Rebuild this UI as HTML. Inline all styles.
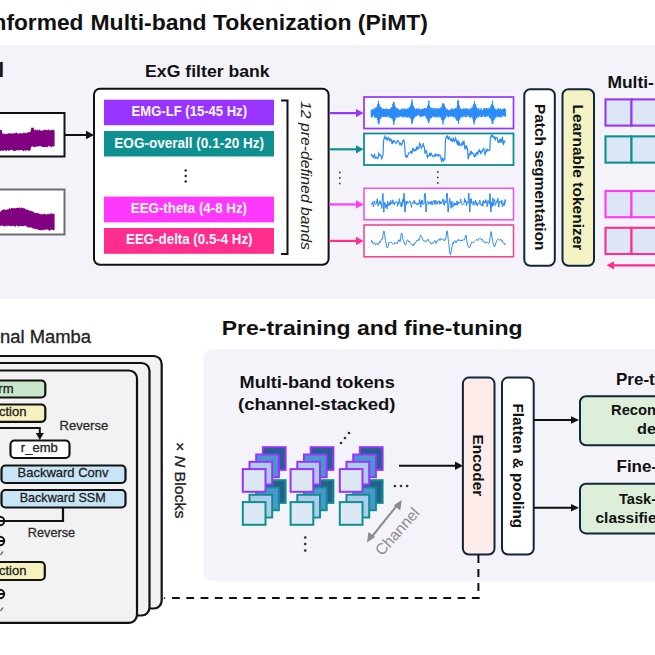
<!DOCTYPE html>
<html><head><meta charset="utf-8">
<style>
html,body{margin:0;padding:0;background:#fff;width:655px;height:655px;overflow:hidden}
svg{display:block}
text{font-family:"Liberation Sans",sans-serif}
.b{font-weight:bold}
.r{stroke:#222;stroke-width:0.3}
</style></head><body>
<svg width="655" height="655" viewBox="0 0 655 655">
<rect x="0" y="0" width="655" height="655" fill="#fff"/>
<!-- ============ TOP PANEL ============ -->
<rect x="0" y="45" width="655" height="254" fill="#F4F3F9"/>
<text class="b" x="-7.5" y="29.7" font-size="21.5" fill="#111" textLength="91" lengthAdjust="spacingAndGlyphs">nformed</text>
<text class="b" x="90.5" y="29.7" font-size="21.5" fill="#111" textLength="337.5" lengthAdjust="spacingAndGlyphs">Multi-band Tokenization (PiMT)</text>

<!-- raw signal label tail -->
<text class="b" x="-1.5" y="76.5" font-size="20" fill="#111">l</text>

<!-- raw signal boxes -->
<rect x="-5" y="113" width="69.5" height="43.5" fill="#fff" stroke="#111" stroke-width="2"/>
<path d="M0.0 130.0 L0.6 130.0 L1.2 130.0 L1.8 130.0 L2.4 133.7 L3.0 133.2 L3.6 134.4 L4.2 133.6 L4.8 133.5 L5.4 133.8 L6.0 134.6 L6.6 134.0 L7.2 133.3 L7.8 133.9 L8.4 132.9 L9.0 133.6 L9.6 133.8 L10.2 133.6 L10.8 132.8 L11.4 133.8 L12.0 133.3 L12.6 134.0 L13.2 133.0 L13.8 133.4 L14.4 133.6 L15.0 132.7 L15.6 133.3 L16.2 133.0 L16.8 132.5 L17.4 132.9 L18.0 133.7 L18.6 133.9 L19.2 133.3 L19.8 133.4 L20.4 133.0 L21.0 132.9 L21.6 133.7 L22.2 133.2 L22.8 133.5 L23.4 132.3 L24.0 133.6 L24.6 132.9 L25.2 132.3 L25.8 132.9 L26.4 133.4 L27.0 132.8 L27.6 132.5 L28.2 131.9 L28.8 132.6 L29.4 132.3 L30.0 131.8 L30.6 131.8 L31.2 128.0 L31.8 127.4 L32.4 127.9 L33.0 127.6 L33.6 127.4 L34.2 130.6 L34.8 129.5 L35.4 129.2 L36.0 130.7 L36.6 130.0 L37.2 129.2 L37.8 130.6 L38.4 130.5 L39.0 129.6 L39.6 129.5 L40.2 130.9 L40.8 129.8 L41.4 130.9 L42.0 131.0 L42.6 130.1 L43.2 130.5 L43.8 130.0 L44.4 129.9 L45.0 129.3 L45.6 130.1 L46.2 129.7 L46.8 130.4 L47.4 130.3 L48.0 129.8 L48.6 129.6 L49.2 129.6 L49.8 130.7 L50.4 130.3 L51.0 130.3 L51.6 129.8 L52.2 130.0 L52.8 130.3 L53.4 129.3 L54.0 130.6 L54.6 130.5 L54.6 145.7 L54.0 147.1 L53.4 146.3 L52.8 145.9 L52.2 146.8 L51.6 147.4 L51.0 146.8 L50.4 146.5 L49.8 145.7 L49.2 147.3 L48.6 145.6 L48.0 146.3 L47.4 147.4 L46.8 146.9 L46.2 147.1 L45.6 147.4 L45.0 146.4 L44.4 147.3 L43.8 147.3 L43.2 146.7 L42.6 147.3 L42.0 146.5 L41.4 146.4 L40.8 146.0 L40.2 146.6 L39.6 146.2 L39.0 146.2 L38.4 146.0 L37.8 146.5 L37.2 146.8 L36.6 147.1 L36.0 145.8 L35.4 147.0 L34.8 147.4 L34.2 147.3 L33.6 146.5 L33.0 146.9 L32.4 146.2 L31.8 146.5 L31.2 146.8 L30.6 149.9 L30.0 150.3 L29.4 150.9 L28.8 150.6 L28.2 151.1 L27.6 150.1 L27.0 150.3 L26.4 150.7 L25.8 150.0 L25.2 151.2 L24.6 149.9 L24.0 151.1 L23.4 151.1 L22.8 150.8 L22.2 150.2 L21.6 150.0 L21.0 149.9 L20.4 150.1 L19.8 149.9 L19.2 150.7 L18.6 150.6 L18.0 150.3 L17.4 149.9 L16.8 150.3 L16.2 150.7 L15.6 151.1 L15.0 150.6 L14.4 150.9 L13.8 151.1 L13.2 151.1 L12.6 149.9 L12.0 149.7 L11.4 150.0 L10.8 150.0 L10.2 150.1 L9.6 150.5 L9.0 151.2 L8.4 150.5 L7.8 149.8 L7.2 150.0 L6.6 151.3 L6.0 151.0 L5.4 150.6 L4.8 150.4 L4.2 150.1 L3.6 150.4 L3.0 151.0 L2.4 151.1 L1.8 150.1 L1.2 150.9 L0.6 151.1 L0.0 150.7 Z" fill="#800080"/>
<rect x="-5" y="189.5" width="69.5" height="45" fill="#fff" stroke="#6e6e6e" stroke-width="2"/>
<path d="M0.0 211.6 L0.6 211.4 L1.2 211.3 L1.8 209.9 L2.4 210.1 L3.0 209.8 L3.6 209.5 L4.2 209.5 L4.8 209.1 L5.4 210.3 L6.0 209.9 L6.6 209.5 L7.2 209.3 L7.8 209.5 L8.4 209.4 L9.0 208.5 L9.6 208.1 L10.2 208.9 L10.8 208.8 L11.4 207.6 L12.0 208.5 L12.6 208.1 L13.2 208.2 L13.8 208.2 L14.4 208.5 L15.0 207.8 L15.6 208.5 L16.2 207.5 L16.8 208.2 L17.4 208.1 L18.0 207.8 L18.6 207.9 L19.2 207.4 L19.8 207.5 L20.4 208.5 L21.0 207.8 L21.6 207.6 L22.2 207.8 L22.8 207.7 L23.4 208.6 L24.0 208.1 L24.6 208.4 L25.2 208.5 L25.8 209.8 L26.4 209.2 L27.0 209.8 L27.6 209.8 L28.2 209.9 L28.8 209.7 L29.4 210.9 L30.0 210.9 L30.6 210.3 L31.2 211.4 L31.8 210.9 L32.4 211.8 L33.0 211.1 L33.6 212.3 L34.2 212.4 L34.8 212.9 L35.4 212.9 L36.0 212.9 L36.6 213.2 L37.2 213.4 L37.8 213.1 L38.4 212.8 L39.0 213.7 L39.6 213.9 L40.2 213.8 L40.8 214.6 L41.4 213.5 L42.0 214.7 L42.6 214.3 L43.2 214.6 L43.8 213.4 L44.4 213.5 L45.0 214.1 L45.6 214.4 L46.2 214.6 L46.8 214.4 L47.4 214.0 L48.0 213.7 L48.6 214.3 L49.2 213.4 L49.8 214.5 L50.4 213.6 L51.0 213.6 L51.6 213.3 L52.2 213.5 L52.8 214.5 L53.4 213.6 L54.0 213.7 L54.6 213.7 L54.6 230.1 L54.0 230.1 L53.4 230.4 L52.8 230.1 L52.2 229.6 L51.6 230.1 L51.0 229.5 L50.4 229.9 L49.8 230.8 L49.2 230.9 L48.6 230.0 L48.0 229.8 L47.4 229.4 L46.8 229.4 L46.2 229.6 L45.6 229.6 L45.0 230.0 L44.4 229.6 L43.8 230.9 L43.2 229.5 L42.6 230.6 L42.0 229.5 L41.4 230.5 L40.8 229.9 L40.2 230.6 L39.6 230.3 L39.0 229.7 L38.4 230.2 L37.8 229.4 L37.2 229.3 L36.6 229.6 L36.0 228.5 L35.4 228.7 L34.8 229.3 L34.2 229.3 L33.6 228.6 L33.0 227.7 L32.4 228.7 L31.8 228.0 L31.2 227.3 L30.6 227.6 L30.0 227.2 L29.4 227.8 L28.8 227.5 L28.2 227.3 L27.6 227.4 L27.0 226.1 L26.4 227.0 L25.8 225.9 L25.2 225.5 L24.6 225.5 L24.0 226.5 L23.4 225.8 L22.8 226.5 L22.2 226.0 L21.6 225.7 L21.0 226.2 L20.4 225.9 L19.8 226.4 L19.2 225.9 L18.6 226.4 L18.0 225.7 L17.4 226.8 L16.8 225.6 L16.2 225.3 L15.6 226.7 L15.0 226.5 L14.4 226.6 L13.8 226.3 L13.2 225.5 L12.6 226.3 L12.0 225.6 L11.4 226.5 L10.8 226.6 L10.2 225.8 L9.6 226.3 L9.0 225.8 L8.4 225.4 L7.8 226.8 L7.2 225.4 L6.6 225.6 L6.0 226.4 L5.4 226.2 L4.8 225.8 L4.2 226.4 L3.6 226.2 L3.0 226.2 L2.4 225.7 L1.8 225.3 L1.2 225.4 L0.6 226.1 L0.0 226.6 Z" fill="#800080"/>
<!-- arrow raw->filter -->
<line x1="65" y1="135" x2="87" y2="135" stroke="#111" stroke-width="2"/>
<polygon points="86,130.8 94,135 86,139.2" fill="#111"/>

<!-- filter bank -->
<text class="b" x="145.1" y="76.5" font-size="17" fill="#111" textLength="124.6" lengthAdjust="spacingAndGlyphs">ExG filter bank</text>
<rect x="94" y="88.8" width="234.6" height="176" rx="6" fill="#fff" stroke="#111" stroke-width="2"/>
<rect x="104" y="99.7" width="170" height="25.5" fill="#9933FF"/>
<text class="b" x="189.3" y="116.4" font-size="13.8" fill="#fafafa" text-anchor="middle" textLength="115.4" lengthAdjust="spacingAndGlyphs">EMG-LF (15-45 Hz)</text>
<rect x="104" y="131" width="170" height="25.5" fill="#0F9090"/>
<text class="b" x="189.2" y="147.8" font-size="13.8" fill="#fafafa" text-anchor="middle" textLength="149.7" lengthAdjust="spacingAndGlyphs">EOG-overall (0.1-20 Hz)</text>
<circle cx="185.7" cy="170.4" r="1.2" fill="#222"/>
<circle cx="185.7" cy="176" r="1.2" fill="#222"/>
<circle cx="185.7" cy="181.5" r="1.2" fill="#222"/>
<rect x="104" y="196.6" width="170" height="25.8" fill="#FF38FF"/>
<text class="b" x="188.9" y="212.5" font-size="13.8" fill="#fafafa" text-anchor="middle" textLength="116.2" lengthAdjust="spacingAndGlyphs">EEG-theta (4-8 Hz)</text>
<rect x="104" y="228" width="170" height="25.8" fill="#FF2D8D"/>
<text class="b" x="189.3" y="244.4" font-size="13.8" fill="#fafafa" text-anchor="middle" textLength="126.4" lengthAdjust="spacingAndGlyphs">EEG-delta (0.5-4 Hz)</text>
<!-- bracket -->
<path d="M281 100.5 L287.5 100.5 L287.5 254 L281 254" fill="none" stroke="#111" stroke-width="2"/>
<text x="0" y="0" font-size="15.5" font-style="italic" fill="#222" transform="translate(300.5,101) rotate(90)" textLength="149" lengthAdjust="spacingAndGlyphs">12 pre-defined bands</text>

<!-- arrows to waveform boxes -->
<g stroke-width="2.2">
<line x1="329" y1="113.1" x2="357" y2="113.1" stroke="#9933FF"/>
<line x1="329" y1="149.3" x2="357" y2="149.3" stroke="#0F9090"/>
<line x1="329" y1="204.4" x2="357" y2="204.4" stroke="#FF38FF"/>
<line x1="329" y1="240.9" x2="357" y2="240.9" stroke="#FF2D8D"/>
</g>
<polygon points="356,109 363.5,113.1 356,117.2" fill="#9933FF"/>
<polygon points="356,145.2 363.5,149.3 356,153.4" fill="#0F9090"/>
<polygon points="356,200.3 363.5,204.4 356,208.5" fill="#FF38FF"/>
<polygon points="356,236.8 363.5,240.9 356,245" fill="#FF2D8D"/>
<circle cx="339.8" cy="172.5" r="0.9" fill="#444"/>
<circle cx="339.8" cy="178" r="0.9" fill="#444"/>
<circle cx="339.8" cy="183.5" r="0.9" fill="#444"/>
<circle cx="437.8" cy="172" r="0.9" fill="#444"/>
<circle cx="437.8" cy="177.5" r="0.9" fill="#444"/>
<circle cx="437.8" cy="183" r="0.9" fill="#444"/>

<!-- waveform boxes -->
<rect x="364" y="97" width="149.5" height="31.5" fill="#fff" stroke="#9933FF" stroke-width="1.7"/>
<rect x="364" y="133.5" width="149.5" height="31.5" fill="#fff" stroke="#0F9090" stroke-width="1.8"/>
<rect x="364" y="188.3" width="149.5" height="31.5" fill="#fff" stroke="#EE55F0" stroke-width="1.6"/>
<rect x="364" y="225" width="149.5" height="31.8" fill="#fff" stroke="#EE4A90" stroke-width="1.6"/>
<path d="M371.0 116.5 L371.3 109.7 L371.6 117.1 L371.9 110.4 L372.2 117.4 L372.5 110.1 L372.8 115.5 L373.1 109.3 L373.4 115.1 L373.7 109.1 L374.0 115.7 L374.3 108.2 L374.6 117.4 L374.9 108.4 L375.2 117.2 L375.5 109.4 L375.8 117.5 L376.1 107.2 L376.4 117.5 L376.7 108.5 L377.0 118.0 L377.3 105.9 L377.6 119.9 L377.9 103.9 L378.2 123.0 L378.5 101.2 L378.8 124.4 L379.1 103.7 L379.4 122.2 L379.7 106.0 L380.0 118.9 L380.3 107.2 L380.6 118.7 L380.9 107.7 L381.2 117.5 L381.5 107.7 L381.8 116.8 L382.1 108.9 L382.4 116.8 L382.7 109.8 L383.0 115.7 L383.3 108.6 L383.6 116.5 L383.9 109.4 L384.2 117.1 L384.5 109.0 L384.8 116.4 L385.1 108.8 L385.4 116.1 L385.7 109.4 L386.0 117.0 L386.3 108.5 L386.6 116.1 L386.9 110.6 L387.2 117.1 L387.5 109.2 L387.8 116.7 L388.1 109.6 L388.4 115.7 L388.7 109.4 L389.0 115.9 L389.3 109.5 L389.6 117.6 L389.9 109.4 L390.2 117.6 L390.5 108.5 L390.8 117.8 L391.1 108.6 L391.4 117.5 L391.7 107.0 L392.0 118.9 L392.3 107.0 L392.6 118.4 L392.9 103.9 L393.2 121.3 L393.5 101.9 L393.8 124.9 L394.1 102.5 L394.4 121.8 L394.7 105.8 L395.0 119.9 L395.3 106.8 L395.6 117.5 L395.9 108.8 L396.2 117.5 L396.5 108.1 L396.8 115.9 L397.1 108.2 L397.4 117.8 L397.7 108.7 L398.0 117.0 L398.3 109.8 L398.6 116.3 L398.9 109.5 L399.2 115.3 L399.5 110.2 L399.8 117.4 L400.1 110.2 L400.4 116.1 L400.7 109.5 L401.0 115.6 L401.3 110.2 L401.6 115.9 L401.9 108.7 L402.2 117.2 L402.5 109.0 L402.8 116.6 L403.1 108.8 L403.4 117.3 L403.7 110.4 L404.0 115.0 L404.3 108.4 L404.6 116.4 L404.9 109.0 L405.2 117.3 L405.5 109.8 L405.8 115.0 L406.1 108.9 L406.4 117.1 L406.7 109.8 L407.0 115.3 L407.3 109.8 L407.6 117.4 L407.9 108.1 L408.2 117.4 L408.5 110.1 L408.8 116.0 L409.1 107.7 L409.4 116.4 L409.7 107.1 L410.0 118.1 L410.3 106.9 L410.6 118.3 L410.9 104.9 L411.2 119.2 L411.5 102.4 L411.8 123.8 L412.1 99.6 L412.4 123.1 L412.7 103.3 L413.0 120.4 L413.3 106.0 L413.6 118.1 L413.9 107.3 L414.2 118.1 L414.5 108.1 L414.8 116.8 L415.1 109.4 L415.4 115.9 L415.7 109.9 L416.0 116.4 L416.3 108.5 L416.6 115.8 L416.9 109.3 L417.2 115.4 L417.5 109.4 L417.8 115.1 L418.1 108.5 L418.4 114.9 L418.7 109.7 L419.0 115.1 L419.3 108.6 L419.6 116.0 L419.9 109.9 L420.2 115.9 L420.5 110.5 L420.8 117.3 L421.1 109.1 L421.4 116.3 L421.7 109.2 L422.0 116.3 L422.3 109.2 L422.6 115.4 L422.9 108.6 L423.2 116.4 L423.5 109.6 L423.8 116.0 L424.1 108.8 L424.4 115.5 L424.7 108.1 L425.0 115.8 L425.3 107.9 L425.6 115.6 L425.9 109.4 L426.2 118.0 L426.5 108.9 L426.8 118.3 L427.1 107.8 L427.4 119.5 L427.7 106.0 L428.0 121.1 L428.3 104.5 L428.6 123.2 L428.9 100.6 L429.2 121.4 L429.5 105.9 L429.8 118.3 L430.1 107.3 L430.4 118.4 L430.7 108.6 L431.0 117.5 L431.3 108.9 L431.6 117.7 L431.9 107.6 L432.2 116.3 L432.5 109.7 L432.8 116.4 L433.1 108.1 L433.4 116.9 L433.7 110.2 L434.0 116.7 L434.3 108.3 L434.6 115.2 L434.9 108.3 L435.2 117.3 L435.5 110.5 L435.8 116.1 L436.1 108.8 L436.4 117.4 L436.7 108.6 L437.0 117.0 L437.3 108.1 L437.6 116.2 L437.9 108.2 L438.2 117.4 L438.5 109.5 L438.8 116.3 L439.1 109.4 L439.4 115.6 L439.7 108.2 L440.0 117.4 L440.3 109.3 L440.6 116.6 L440.9 107.4 L441.2 117.8 L441.5 108.3 L441.8 120.3 L442.1 105.7 L442.4 119.8 L442.7 103.7 L443.0 124.5 L443.3 103.2 L443.6 121.2 L443.9 104.4 L444.2 118.6 L444.5 105.7 L444.8 119.3 L445.1 107.0 L445.4 117.7 L445.7 107.9 L446.0 116.3 L446.3 109.9 L446.6 115.5 L446.9 109.6 L447.2 115.4 L447.5 109.4 L447.8 116.8 L448.1 109.9 L448.4 117.3 L448.7 110.4 L449.0 115.0 L449.3 110.6 L449.6 116.5 L449.9 110.3 L450.2 115.8 L450.5 110.5 L450.8 116.6 L451.1 109.1 L451.4 115.6 L451.7 108.3 L452.0 116.6 L452.3 110.6 L452.6 115.1 L452.9 108.8 L453.2 117.0 L453.5 110.1 L453.8 117.4 L454.1 109.7 L454.4 116.3 L454.7 109.1 L455.0 116.6 L455.3 108.0 L455.6 118.4 L455.9 108.7 L456.2 119.0 L456.5 108.8 L456.8 120.4 L457.1 106.9 L457.4 120.7 L457.7 100.8 L458.0 121.2 L458.3 99.9 L458.6 123.8 L458.9 105.0 L459.2 119.8 L459.5 106.4 L459.8 119.2 L460.1 107.9 L460.4 117.6 L460.7 109.6 L461.0 115.9 L461.3 109.0 L461.6 116.3 L461.9 109.7 L462.2 117.7 L462.5 109.2 L462.8 115.9 L463.1 109.8 L463.4 115.9 L463.7 108.3 L464.0 117.0 L464.3 109.7 L464.6 115.1 L464.9 109.1 L465.2 116.6 L465.5 108.2 L465.8 116.9 L466.1 108.3 L466.4 117.1 L466.7 109.1 L467.0 115.4 L467.3 110.0 L467.6 115.2 L467.9 108.4 L468.2 115.0 L468.5 110.3 L468.8 116.5 L469.1 109.5 L469.4 116.7 L469.7 109.5 L470.0 117.4 L470.3 108.6 L470.6 117.6 L470.9 108.7 L471.2 117.1 L471.5 109.2 L471.8 116.0 L472.1 107.2 L472.4 116.9 L472.7 108.1 L473.0 119.2 L473.3 105.7 L473.6 122.2 L473.9 103.8 L474.2 124.3 L474.5 101.4 L474.8 120.8 L475.1 103.9 L475.4 119.9 L475.7 104.9 L476.0 118.1 L476.3 107.3 L476.6 118.1 L476.9 108.1 L477.2 116.9 L477.5 109.2 L477.8 116.3 L478.1 109.2 L478.4 117.5 L478.7 107.9 L479.0 115.3 L479.3 110.4 L479.6 115.5 L479.9 109.9 L480.2 117.1 L480.5 109.8 L480.8 114.9 L481.1 108.3 L481.4 117.1 L481.7 110.0 L482.0 115.6 L482.3 110.5 L482.6 116.8 L482.9 110.3 L483.2 115.6 L483.5 108.8 L483.8 115.0 L484.1 108.2 L484.4 116.8 L484.7 108.5 L485.0 117.1 L485.3 108.5 L485.6 116.7 L485.9 110.0 L486.2 116.4 L486.5 108.3 L486.8 115.4 L487.1 108.5 L487.4 116.3 L487.7 108.9 L488.0 115.3 L488.3 108.2 L488.6 115.4 L488.9 109.2 L489.2 117.2 L489.5 109.1 L489.8 117.7 L490.1 107.7 L490.4 118.6 L490.7 106.4 L491.0 118.4 L491.3 105.9 L491.6 120.8 L491.9 104.1 L492.2 123.9 L492.5 100.6 L492.8 123.8 L493.1 105.2 L493.4 119.8 L493.7 106.0 L494.0 120.3 L494.3 108.2 L494.6 118.2 L494.9 109.2 L495.2 118.2 L495.5 109.2 L495.8 116.5 L496.1 110.1 L496.4 115.5 L496.7 109.6 L497.0 117.4 L497.3 109.9 L497.6 116.0 L497.9 108.7 L498.2 116.8 L498.5 108.2 L498.8 117.1 L499.1 109.8 L499.4 116.7 L499.7 109.7 L500.0 116.3 L500.3 108.3 L500.6 117.4 L500.9 109.8 L501.2 115.2 L501.5 110.3 L501.8 117.1 L502.1 109.0 L502.4 115.0 L502.7 109.5 L503.0 116.1 L503.3 109.1 L503.6 115.0 L503.9 108.5 L504.2 116.2 L504.5 108.4 L504.8 115.9 L505.1 108.9 L505.4 116.7 L505.7 110.5" fill="none" stroke="#2A8BF8" stroke-width="0.9"/>
<path d="M371.0 153.7 L371.6 155.2 L372.2 156.3 L372.8 155.6 L373.4 157.4 L374.0 156.1 L374.6 154.8 L375.2 158.1 L375.8 157.9 L376.4 157.2 L377.0 158.1 L377.6 158.6 L378.2 157.7 L378.8 153.3 L379.4 154.7 L380.0 155.4 L380.6 154.9 L381.2 156.6 L381.8 158.6 L382.4 156.7 L383.0 155.2 L383.6 140.6 L384.2 138.3 L384.8 136.5 L385.4 138.3 L386.0 139.2 L386.6 137.9 L387.2 139.8 L387.8 138.6 L388.4 137.7 L389.0 139.1 L389.6 140.6 L390.2 139.0 L390.8 140.0 L391.4 139.8 L392.0 144.2 L392.6 140.4 L393.2 142.4 L393.8 141.0 L394.4 140.6 L395.0 141.8 L395.6 142.5 L396.2 143.4 L396.8 142.4 L397.4 140.7 L398.0 140.5 L398.6 142.0 L399.2 142.7 L399.8 144.3 L400.4 143.3 L401.0 144.1 L401.6 145.1 L402.2 143.5 L402.8 140.7 L403.4 140.4 L404.0 140.0 L404.6 144.5 L405.2 154.4 L405.8 156.5 L406.4 155.9 L407.0 157.2 L407.6 156.3 L408.2 154.1 L408.8 153.0 L409.4 152.9 L410.0 152.8 L410.6 151.4 L411.2 151.6 L411.8 153.8 L412.4 149.3 L413.0 150.6 L413.6 149.0 L414.2 150.0 L414.8 151.0 L415.4 149.7 L416.0 150.3 L416.6 146.7 L417.2 149.5 L417.8 147.5 L418.4 148.5 L419.0 147.9 L419.6 143.3 L420.2 144.5 L420.8 146.0 L421.4 148.3 L422.0 146.8 L422.6 146.1 L423.2 143.1 L423.8 146.3 L424.4 147.5 L425.0 153.0 L425.6 152.2 L426.2 150.1 L426.8 153.4 L427.4 157.2 L428.0 155.6 L428.6 156.1 L429.2 155.4 L429.8 153.0 L430.4 156.0 L431.0 153.2 L431.6 154.1 L432.2 155.2 L432.8 156.7 L433.4 156.6 L434.0 156.7 L434.6 155.2 L435.2 154.1 L435.8 156.0 L436.4 155.6 L437.0 154.7 L437.6 154.7 L438.2 156.0 L438.8 154.6 L439.4 155.1 L440.0 155.0 L440.6 157.8 L441.2 159.2 L441.8 162.2 L442.4 158.0 L443.0 158.2 L443.6 160.8 L444.2 160.0 L444.8 159.8 L445.4 140.0 L446.0 138.0 L446.6 136.4 L447.2 135.8 L447.8 138.2 L448.4 139.1 L449.0 137.0 L449.6 137.1 L450.2 139.6 L450.8 140.5 L451.4 139.1 L452.0 140.8 L452.6 141.4 L453.2 138.2 L453.8 139.6 L454.4 141.2 L455.0 140.4 L455.6 138.0 L456.2 140.2 L456.8 142.6 L457.4 144.7 L458.0 139.8 L458.6 145.7 L459.2 142.0 L459.8 144.2 L460.4 145.4 L461.0 145.6 L461.6 144.5 L462.2 142.4 L462.8 144.6 L463.4 143.4 L464.0 140.5 L464.6 147.8 L465.2 147.0 L465.8 148.6 L466.4 145.1 L467.0 147.8 L467.6 148.9 L468.2 159.1 L468.8 156.6 L469.4 154.0 L470.0 154.6 L470.6 151.6 L471.2 151.3 L471.8 153.8 L472.4 152.8 L473.0 153.6 L473.6 153.8 L474.2 156.7 L474.8 156.6 L475.4 154.4 L476.0 155.4 L476.6 152.7 L477.2 152.4 L477.8 154.0 L478.4 151.1 L479.0 151.6 L479.6 150.0 L480.2 151.6 L480.8 154.2 L481.4 151.3 L482.0 151.7 L482.6 150.0 L483.2 149.0 L483.8 148.4 L484.4 152.2 L485.0 154.5 L485.6 152.3 L486.2 149.7 L486.8 150.9 L487.4 149.6 L488.0 150.7 L488.6 150.2 L489.2 149.9 L489.8 150.1 L490.4 137.1 L491.0 137.0 L491.6 135.2 L492.2 136.6 L492.8 135.7 L493.4 137.5 L494.0 136.9 L494.6 138.4 L495.2 139.6 L495.8 137.2 L496.4 137.5 L497.0 137.5 L497.6 140.2 L498.2 142.5 L498.8 142.1 L499.4 140.3 L500.0 142.6 L500.6 138.9 L501.2 142.4 L501.8 140.4 L502.4 136.7 L503.0 143.8 L503.6 144.5 L504.2 140.9 L504.8 141.7 L505.4 141.5" fill="none" stroke="#2A8BF8" stroke-width="1.2"/>
<path d="M371.0 203.2 L371.4 204.4 L371.9 203.4 L372.3 202.8 L372.8 201.6 L373.2 206.8 L373.7 205.7 L374.1 201.9 L374.6 200.9 L375.0 204.0 L375.5 204.5 L375.9 204.2 L376.4 203.6 L376.8 200.9 L377.3 198.6 L377.7 204.7 L378.2 206.0 L378.6 205.0 L379.1 202.1 L379.5 203.8 L380.0 200.6 L380.4 202.0 L380.9 204.6 L381.3 203.5 L381.8 208.4 L382.2 200.6 L382.7 193.5 L383.1 193.5 L383.6 212.0 L384.0 212.0 L384.5 202.7 L384.9 202.1 L385.4 207.1 L385.8 207.7 L386.3 204.1 L386.7 206.4 L387.2 209.0 L387.6 201.0 L388.1 202.8 L388.5 205.4 L389.0 206.0 L389.4 203.9 L389.9 202.1 L390.3 204.9 L390.8 200.4 L391.2 203.2 L391.7 203.0 L392.1 203.9 L392.6 200.7 L393.0 199.8 L393.5 203.7 L393.9 203.1 L394.4 204.9 L394.8 202.9 L395.3 201.8 L395.7 203.0 L396.2 202.0 L396.6 201.7 L397.1 201.6 L397.5 206.4 L398.0 204.6 L398.4 202.2 L398.9 204.3 L399.3 198.6 L399.8 202.3 L400.2 202.2 L400.7 203.2 L401.1 207.0 L401.6 202.4 L402.0 206.4 L402.5 202.9 L402.9 199.3 L403.4 202.5 L403.8 193.5 L404.3 193.5 L404.7 212.0 L405.2 212.0 L405.6 204.7 L406.1 200.8 L406.5 204.7 L407.0 201.2 L407.4 202.2 L407.9 203.3 L408.3 202.3 L408.8 202.9 L409.2 202.4 L409.7 201.3 L410.1 200.7 L410.6 203.4 L411.0 204.7 L411.5 207.4 L411.9 204.1 L412.4 202.7 L412.8 202.6 L413.3 203.4 L413.7 202.4 L414.2 200.2 L414.6 203.5 L415.1 202.0 L415.5 203.5 L416.0 203.8 L416.4 204.9 L416.9 203.3 L417.3 204.1 L417.8 202.9 L418.2 205.1 L418.7 204.7 L419.1 201.4 L419.6 199.5 L420.0 203.8 L420.5 202.0 L420.9 207.3 L421.4 200.2 L421.8 203.8 L422.3 200.3 L422.7 203.0 L423.2 204.1 L423.6 204.6 L424.1 203.9 L424.5 193.5 L425.0 193.5 L425.4 193.5 L425.9 212.0 L426.3 212.0 L426.8 202.8 L427.2 202.7 L427.7 201.2 L428.1 201.4 L428.6 204.3 L429.0 202.4 L429.5 202.8 L429.9 203.0 L430.4 204.3 L430.8 201.3 L431.3 204.4 L431.7 201.4 L432.2 201.8 L432.6 204.7 L433.1 202.4 L433.5 200.6 L434.0 201.6 L434.4 200.7 L434.9 204.6 L435.3 201.1 L435.8 200.2 L436.2 204.3 L436.7 203.1 L437.1 201.4 L437.6 204.0 L438.0 202.3 L438.5 202.0 L438.9 201.0 L439.4 200.8 L439.8 204.5 L440.3 203.2 L440.7 201.6 L441.2 203.8 L441.6 202.1 L442.1 201.9 L442.5 201.1 L443.0 198.7 L443.4 204.4 L443.9 200.2 L444.3 205.3 L444.8 203.7 L445.2 201.5 L445.7 200.9 L446.1 203.1 L446.6 193.5 L447.0 193.5 L447.5 193.5 L447.9 212.0 L448.4 212.0 L448.8 203.7 L449.3 203.6 L449.7 198.5 L450.2 201.4 L450.6 205.4 L451.1 208.3 L451.5 202.6 L452.0 201.0 L452.4 207.1 L452.9 206.9 L453.3 205.5 L453.8 202.6 L454.2 205.7 L454.7 203.7 L455.1 202.9 L455.6 205.1 L456.0 203.6 L456.5 205.0 L456.9 200.8 L457.4 205.4 L457.8 201.6 L458.3 203.8 L458.7 202.5 L459.2 202.0 L459.6 203.2 L460.1 202.8 L460.5 198.9 L461.0 200.4 L461.4 203.6 L461.9 203.4 L462.3 205.0 L462.8 204.3 L463.2 204.4 L463.7 203.6 L464.1 203.0 L464.6 198.3 L465.0 201.9 L465.5 200.3 L465.9 202.5 L466.4 205.8 L466.8 201.4 L467.3 202.9 L467.7 203.0 L468.2 203.2 L468.6 193.5 L469.1 193.5 L469.5 212.0 L470.0 212.0 L470.4 199.0 L470.9 203.9 L471.3 198.6 L471.8 202.8 L472.2 202.4 L472.7 203.0 L473.1 204.8 L473.6 201.0 L474.0 203.7 L474.5 204.8 L474.9 205.2 L475.4 200.2 L475.8 203.2 L476.3 201.6 L476.7 204.5 L477.2 206.0 L477.6 203.2 L478.1 204.0 L478.5 203.3 L479.0 204.4 L479.4 200.6 L479.9 199.9 L480.3 202.4 L480.8 205.0 L481.2 205.2 L481.7 206.1 L482.1 204.5 L482.6 201.7 L483.0 206.2 L483.5 200.4 L483.9 201.2 L484.4 202.9 L484.8 201.4 L485.3 203.1 L485.7 199.5 L486.2 200.8 L486.6 201.6 L487.1 206.7 L487.5 204.1 L488.0 200.4 L488.4 202.7 L488.9 203.2 L489.3 204.3 L489.8 193.5 L490.2 193.5 L490.7 212.0 L491.1 212.0 L491.6 202.0 L492.0 204.6 L492.5 206.4 L492.9 197.8 L493.4 205.6 L493.8 202.5 L494.3 200.9 L494.7 199.6 L495.2 205.5 L495.6 203.4 L496.1 203.8 L496.5 201.1 L497.0 200.7 L497.4 202.3 L497.9 198.3 L498.3 202.7 L498.8 207.2 L499.2 204.5 L499.7 200.9 L500.1 202.2 L500.6 202.1 L501.0 201.3 L501.5 204.1 L501.9 200.1 L502.4 206.7 L502.8 203.5 L503.3 205.9 L503.7 204.3 L504.2 202.3 L504.6 205.4 L505.1 199.5 L505.5 203.0" fill="none" stroke="#2A8BF8" stroke-width="1"/>
<path d="M371.0 240.5 L371.5 240.1 L372.0 242.6 L372.5 241.6 L373.0 243.5 L373.5 243.9 L374.0 243.4 L374.5 242.6 L375.0 243.8 L375.5 245.1 L376.0 243.7 L376.5 243.3 L377.0 244.1 L377.5 243.9 L378.0 244.9 L378.5 243.4 L379.0 243.2 L379.5 241.5 L380.0 243.0 L380.5 241.5 L381.0 239.3 L381.5 239.4 L382.0 239.0 L382.5 239.2 L383.0 235.4 L383.5 231.8 L384.0 231.0 L384.5 234.2 L385.0 237.1 L385.5 240.7 L386.0 243.1 L386.5 245.1 L387.0 247.2 L387.5 248.0 L388.0 246.1 L388.5 245.3 L389.0 242.1 L389.5 242.4 L390.0 242.7 L390.5 242.4 L391.0 241.9 L391.5 242.1 L392.0 242.9 L392.5 243.7 L393.0 243.9 L393.5 244.5 L394.0 243.7 L394.5 243.8 L395.0 242.4 L395.5 243.4 L396.0 243.4 L396.5 242.8 L397.0 243.6 L397.5 243.5 L398.0 240.6 L398.5 240.9 L399.0 239.7 L399.5 240.8 L400.0 241.8 L400.5 238.6 L401.0 235.4 L401.5 233.0 L402.0 233.8 L402.5 236.7 L403.0 239.8 L403.5 240.2 L404.0 243.0 L404.5 243.3 L405.0 244.4 L405.5 245.1 L406.0 244.1 L406.5 241.6 L407.0 240.3 L407.5 240.0 L408.0 240.4 L408.5 241.8 L409.0 240.9 L409.5 241.9 L410.0 242.7 L410.5 243.3 L411.0 243.6 L411.5 244.8 L412.0 244.7 L412.5 244.9 L413.0 244.8 L413.5 245.8 L414.0 243.3 L414.5 244.3 L415.0 243.5 L415.5 243.0 L416.0 241.9 L416.5 240.5 L417.0 240.6 L417.5 240.3 L418.0 240.9 L418.5 239.4 L419.0 240.3 L419.5 239.0 L420.0 236.8 L420.5 235.2 L421.0 235.3 L421.5 236.2 L422.0 237.6 L422.5 239.1 L423.0 240.3 L423.5 240.3 L424.0 241.2 L424.5 240.7 L425.0 240.7 L425.5 241.9 L426.0 241.7 L426.5 241.1 L427.0 239.9 L427.5 239.5 L428.0 239.2 L428.5 241.1 L429.0 241.2 L429.5 242.0 L430.0 242.0 L430.5 242.7 L431.0 244.2 L431.5 243.4 L432.0 243.2 L432.5 242.7 L433.0 243.6 L433.5 242.6 L434.0 241.8 L434.5 241.0 L435.0 240.4 L435.5 241.4 L436.0 243.5 L436.5 241.7 L437.0 242.1 L437.5 241.6 L438.0 240.1 L438.5 239.7 L439.0 239.4 L439.5 238.8 L440.0 240.5 L440.5 238.4 L441.0 238.9 L441.5 239.2 L442.0 238.7 L442.5 239.1 L443.0 239.9 L443.5 240.0 L444.0 240.4 L444.5 240.9 L445.0 238.8 L445.5 239.2 L446.0 237.5 L446.5 232.9 L447.0 230.8 L447.5 231.7 L448.0 237.2 L448.5 241.6 L449.0 245.4 L449.5 250.6 L450.0 253.4 L450.5 255.1 L451.0 252.3 L451.5 249.5 L452.0 246.6 L452.5 243.9 L453.0 242.4 L453.5 243.8 L454.0 242.1 L454.5 241.1 L455.0 240.6 L455.5 241.7 L456.0 243.0 L456.5 242.1 L457.0 240.7 L457.5 239.9 L458.0 240.6 L458.5 239.3 L459.0 240.4 L459.5 241.0 L460.0 240.2 L460.5 240.3 L461.0 240.4 L461.5 241.2 L462.0 239.7 L462.5 240.7 L463.0 240.2 L463.5 239.7 L464.0 240.1 L464.5 239.7 L465.0 238.0 L465.5 235.6 L466.0 235.0 L466.5 238.2 L467.0 242.1 L467.5 244.0 L468.0 246.0 L468.5 246.3 L469.0 247.3 L469.5 247.9 L470.0 246.4 L470.5 244.7 L471.0 244.0 L471.5 243.1 L472.0 241.9 L472.5 242.4 L473.0 242.0 L473.5 242.7 L474.0 242.1 L474.5 241.4 L475.0 241.1 L475.5 240.6 L476.0 239.8 L476.5 239.4 L477.0 240.0 L477.5 240.2 L478.0 240.7 L478.5 238.7 L479.0 238.5 L479.5 238.4 L480.0 238.9 L480.5 238.7 L481.0 238.7 L481.5 239.8 L482.0 240.1 L482.5 239.4 L483.0 241.1 L483.5 242.0 L484.0 241.5 L484.5 242.4 L485.0 241.8 L485.5 243.1 L486.0 242.9 L486.5 242.4 L487.0 242.5 L487.5 242.3 L488.0 243.0 L488.5 243.4 L489.0 243.3 L489.5 242.1 L490.0 237.4 L490.5 235.3 L491.0 231.6 L491.5 233.0 L492.0 237.3 L492.5 240.7 L493.0 242.5 L493.5 244.3 L494.0 246.1 L494.5 246.9 L495.0 246.1 L495.5 243.8 L496.0 242.8 L496.5 240.9 L497.0 240.6 L497.5 239.6 L498.0 239.4 L498.5 239.1 L499.0 239.5 L499.5 240.2 L500.0 240.2 L500.5 239.6 L501.0 239.3 L501.5 241.2 L502.0 240.9 L502.5 240.9 L503.0 242.5 L503.5 243.3 L504.0 243.4 L504.5 242.9 L505.0 244.9 L505.5 244.6" fill="none" stroke="#2A8BF8" stroke-width="1"/>

<!-- patch segmentation / tokenizer -->
<rect x="524.3" y="89.3" width="30.5" height="176.5" rx="6" fill="#fff" stroke="#10263A" stroke-width="2"/>
<text class="b" x="0" y="0" font-size="15" fill="#111" text-anchor="middle" transform="translate(534.5,177.2) rotate(90)" textLength="146.6" lengthAdjust="spacingAndGlyphs">Patch segmentation</text>
<rect x="562.5" y="89.3" width="31.5" height="176.5" rx="6" fill="#F5F3C4" stroke="#10263A" stroke-width="2"/>
<text class="b" x="0" y="0" font-size="15" fill="#111" text-anchor="middle" transform="translate(573.2,177.5) rotate(90)" textLength="145.8" lengthAdjust="spacingAndGlyphs">Learnable tokenizer</text>

<!-- multi-band tokens (cut) -->
<text class="b" x="607.4" y="88.3" font-size="17" fill="#111" textLength="46.5" lengthAdjust="spacingAndGlyphs">Multi-</text>
<g fill="#DCE6F5" stroke-width="2.1">
<rect x="605.5" y="99.4" width="26" height="26.2" stroke="#9933FF"/>
<rect x="631.5" y="99.4" width="40" height="26.2" stroke="#9933FF"/>
<rect x="605.5" y="136.4" width="26" height="26.2" stroke="#0F9090"/>
<rect x="631.5" y="136.4" width="40" height="26.2" stroke="#0F9090"/>
<rect x="605.5" y="191" width="26" height="26.2" stroke="#FF38FF"/>
<rect x="631.5" y="191" width="40" height="26.2" stroke="#FF38FF"/>
<rect x="605.5" y="227.8" width="26" height="26.2" stroke="#FF2D8D"/>
<rect x="631.5" y="227.8" width="40" height="26.2" stroke="#FF2D8D"/>
</g>
<line x1="612" y1="265.3" x2="660" y2="265.3" stroke="#FF2D8D" stroke-width="2.2"/>
<polygon points="614,261.2 606.5,265.3 614,269.4" fill="#FF2D8D"/>

<!-- ============ BOTTOM LEFT: Mamba ============ -->
<text x="0" y="342.5" class="r" font-size="17.5" fill="#222" textLength="91" lengthAdjust="spacingAndGlyphs">nal Mamba</text>

<rect x="-20" y="356" width="181.7" height="252.5" rx="8" fill="#F2F2F2" stroke="#111" stroke-width="2.2"/>
<rect x="-20" y="363" width="169.5" height="252.5" rx="8" fill="#F2F2F2" stroke="#111" stroke-width="2.2"/>
<rect x="-20" y="370.5" width="157" height="252.3" rx="8" fill="#F2F2F2" stroke="#111" stroke-width="2.2"/>

<g stroke="#111" stroke-width="2.2">
<rect x="-20" y="380.5" width="65.3" height="17" rx="4" fill="#C9E6CB"/>
<rect x="-20" y="404.5" width="65.3" height="17.3" rx="4" fill="#F5F2BF"/>
<rect x="10.5" y="440.5" width="59" height="17.5" rx="4" fill="#fff"/>
<rect x="1.5" y="465.5" width="124" height="17.5" rx="4" fill="#C7E5F7"/>
<rect x="1.5" y="490" width="124" height="17.5" rx="4" fill="#C7E5F7"/>
<rect x="-20" y="562" width="64.8" height="18" rx="4" fill="#F5F2BF"/>
</g>
<text x="13.5" y="392.8" class="r" font-size="13" fill="#222" text-anchor="end">rm</text>
<text x="26.4" y="416" class="r" font-size="13" fill="#222" text-anchor="end">ction</text>
<text x="59.5" y="429.5" class="r" font-size="13" fill="#333" textLength="48.7" lengthAdjust="spacingAndGlyphs">Reverse</text>
<text x="20.8" y="452.4" class="r" font-size="13" fill="#222" textLength="37" lengthAdjust="spacingAndGlyphs">r_emb</text>
<text x="17.5" y="477.4" class="r" font-size="13" fill="#222" textLength="91" lengthAdjust="spacingAndGlyphs">Backward Conv</text>
<text x="19.7" y="502" class="r" font-size="13" fill="#222" textLength="86" lengthAdjust="spacingAndGlyphs">Backward SSM</text>
<text x="27.8" y="537.3" class="r" font-size="13" fill="#333" textLength="47.4" lengthAdjust="spacingAndGlyphs">Reverse</text>
<text x="26.4" y="575" class="r" font-size="13" fill="#222" text-anchor="end">ction</text>
<path d="M-5 428 L39.8 428 L39.8 434" fill="none" stroke="#111" stroke-width="2"/>
<polygon points="35.8,433 43.8,433 39.8,440" fill="#111"/>
<path d="M63 508 L63 521 L0 521" fill="none" stroke="#111" stroke-width="2.2"/>
<g fill="none" stroke="#111" stroke-width="2">
<circle cx="0" cy="521" r="4.2"/>
<circle cx="0" cy="541" r="4.2"/>
<circle cx="0" cy="594" r="4.2"/>
<line x1="-5" y1="541" x2="4.5" y2="541"/>
<line x1="-5" y1="594" x2="4.5" y2="594"/>
</g>
<path d="M3.2 551.5 L0.5 555 M3.2 607.5 L0.5 611" stroke="#444" stroke-width="1.1" fill="none"/>
<text x="0" y="0" class="r" font-size="15.5" fill="#222" transform="translate(174.8,442) rotate(90)" textLength="76.5" lengthAdjust="spacingAndGlyphs">× <tspan font-style="italic">N</tspan> Blocks</text>

<!-- ============ BOTTOM RIGHT PANEL ============ -->
<text class="b" x="221.8" y="335.3" font-size="21" fill="#111" textLength="300.8" lengthAdjust="spacingAndGlyphs">Pre-training and fine-tuning</text>
<rect x="203.3" y="349" width="470" height="232" rx="10" fill="#F4F3F9"/>
<text class="b" x="239.6" y="387.5" font-size="16.5" fill="#111" textLength="155.2" lengthAdjust="spacingAndGlyphs">Multi-band tokens</text>
<text class="b" x="238" y="410" font-size="16.5" fill="#111" textLength="157.5" lengthAdjust="spacingAndGlyphs">(channel-stacked)</text>

<!-- token stacks -->
<g id="stk">
<rect x="262.9" y="480.2" width="22.7" height="22.7" fill="#23608F" stroke="#0F9090" stroke-width="2"/>
<rect x="256.2" y="487.5" width="22.7" height="22.7" fill="#4C96CF" stroke="#0F9090" stroke-width="2"/>
<rect x="249.5" y="494.8" width="22.7" height="22.7" fill="#ADCBEA" stroke="#0F9090" stroke-width="2"/>
<rect x="242.8" y="502.1" width="22.7" height="22.7" fill="#DDE8F5" stroke="#0F9090" stroke-width="2"/>
<rect x="262.9" y="447.2" width="22.7" height="22.7" fill="#23608F" stroke="#9933FF" stroke-width="2"/>
<rect x="256.2" y="454.5" width="22.7" height="22.7" fill="#4C96CF" stroke="#9933FF" stroke-width="2"/>
<rect x="249.5" y="461.8" width="22.7" height="22.7" fill="#ADCBEA" stroke="#9933FF" stroke-width="2"/>
<rect x="242.8" y="469.1" width="22.7" height="22.7" fill="#DDE8F5" stroke="#9933FF" stroke-width="2"/>
<rect x="310.7" y="480.2" width="22.7" height="22.7" fill="#23608F" stroke="#0F9090" stroke-width="2"/>
<rect x="304.0" y="487.5" width="22.7" height="22.7" fill="#4C96CF" stroke="#0F9090" stroke-width="2"/>
<rect x="297.3" y="494.8" width="22.7" height="22.7" fill="#ADCBEA" stroke="#0F9090" stroke-width="2"/>
<rect x="290.6" y="502.1" width="22.7" height="22.7" fill="#DDE8F5" stroke="#0F9090" stroke-width="2"/>
<rect x="310.7" y="447.2" width="22.7" height="22.7" fill="#23608F" stroke="#9933FF" stroke-width="2"/>
<rect x="304.0" y="454.5" width="22.7" height="22.7" fill="#4C96CF" stroke="#9933FF" stroke-width="2"/>
<rect x="297.3" y="461.8" width="22.7" height="22.7" fill="#ADCBEA" stroke="#9933FF" stroke-width="2"/>
<rect x="290.6" y="469.1" width="22.7" height="22.7" fill="#DDE8F5" stroke="#9933FF" stroke-width="2"/>
<rect x="359.9" y="480.2" width="22.7" height="22.7" fill="#23608F" stroke="#0F9090" stroke-width="2"/>
<rect x="353.2" y="487.5" width="22.7" height="22.7" fill="#4C96CF" stroke="#0F9090" stroke-width="2"/>
<rect x="346.5" y="494.8" width="22.7" height="22.7" fill="#ADCBEA" stroke="#0F9090" stroke-width="2"/>
<rect x="339.8" y="502.1" width="22.7" height="22.7" fill="#DDE8F5" stroke="#0F9090" stroke-width="2"/>
<rect x="359.9" y="447.2" width="22.7" height="22.7" fill="#23608F" stroke="#9933FF" stroke-width="2"/>
<rect x="353.2" y="454.5" width="22.7" height="22.7" fill="#4C96CF" stroke="#9933FF" stroke-width="2"/>
<rect x="346.5" y="461.8" width="22.7" height="22.7" fill="#ADCBEA" stroke="#9933FF" stroke-width="2"/>
<rect x="339.8" y="469.1" width="22.7" height="22.7" fill="#DDE8F5" stroke="#9933FF" stroke-width="2"/>
</g>

<!-- arrow to encoder -->
<line x1="399" y1="465.8" x2="456" y2="465.8" stroke="#111" stroke-width="2"/>
<polygon points="455,461.6 463,465.8 455,470" fill="#111"/>
<!-- channel arrow -->
<g stroke="#8c8c8c" stroke-width="2" fill="#8c8c8c">
<line x1="370" y1="539" x2="398.5" y2="503.5"/>
</g>
<polygon points="367,542.5 368.5,532 375,537" fill="#8c8c8c"/>
<polygon points="401.7,500 400.2,510.5 393.7,505.5" fill="#8c8c8c"/>
<text x="0" y="0" font-size="15.5" fill="#8c8c8c" transform="translate(382,556.5) rotate(-48.3)">Channel</text>
<g fill="#333">
<circle cx="394.9" cy="486" r="1.35"/><circle cx="401" cy="486" r="1.35"/><circle cx="407.1" cy="486" r="1.35"/>
<circle cx="341" cy="443" r="1.35"/><circle cx="345" cy="438" r="1.35"/><circle cx="349" cy="433" r="1.35"/>
<circle cx="305.2" cy="537.5" r="1.35"/><circle cx="305.2" cy="544" r="1.35"/><circle cx="305.2" cy="550.5" r="1.35"/>
</g>

<!-- encoder / flatten -->
<rect x="462.9" y="377.6" width="31.6" height="176.9" rx="6" fill="#FDECEA" stroke="#10263A" stroke-width="2"/>
<text class="b" x="0" y="0" font-size="15" fill="#111" text-anchor="middle" transform="translate(472.5,465.4) rotate(90)" textLength="61.8" lengthAdjust="spacingAndGlyphs">Encoder</text>
<rect x="502" y="377.6" width="31.7" height="176.9" rx="6" fill="#fff" stroke="#10263A" stroke-width="2"/>
<text class="b" x="0" y="0" font-size="15" fill="#111" text-anchor="middle" transform="translate(512.8,465.8) rotate(90)" textLength="124.8" lengthAdjust="spacingAndGlyphs">Flatten &amp; pooling</text>

<!-- arrows to heads -->
<line x1="534" y1="420" x2="571" y2="420" stroke="#111" stroke-width="2"/>
<polygon points="571,416.2 579,420 571,423.8" fill="#111"/>
<line x1="534" y1="507.7" x2="571" y2="507.7" stroke="#111" stroke-width="2"/>
<polygon points="571,503.9 579,507.7 571,511.5" fill="#111"/>

<text class="b" x="616" y="384.9" font-size="17" fill="#111">Pre-training</text>
<rect x="580" y="396.3" width="100" height="49" rx="6" fill="#DDEFD9" stroke="#10263A" stroke-width="2"/>
<text class="b" x="611" y="414.8" font-size="14" fill="#111" textLength="45" lengthAdjust="spacingAndGlyphs">Recon</text>
<text class="b" x="637" y="433.6" font-size="14" fill="#111" textLength="19" lengthAdjust="spacingAndGlyphs">de</text>
<text class="b" x="616.5" y="471.7" font-size="17" fill="#111">Fine-tuning</text>
<rect x="580" y="483.8" width="100" height="49.6" rx="6" fill="#DDEFD9" stroke="#10263A" stroke-width="2"/>
<text class="b" x="619" y="504.2" font-size="14" fill="#111" textLength="37" lengthAdjust="spacingAndGlyphs">Task-</text>
<text class="b" x="595.5" y="522.8" font-size="14" fill="#111" textLength="61" lengthAdjust="spacingAndGlyphs">classifie</text>

<!-- dashed connector -->
<path d="M478.4 555 L478.4 591" fill="none" stroke="#111" stroke-width="2" stroke-dasharray="8 6"/>
<circle cx="164.5" cy="598.1" r="0.9" fill="#222"/>
<path d="M172 598.1 L480 598.1" fill="none" stroke="#111" stroke-width="2" stroke-dasharray="7.8 6.48"/>
</svg>
</body></html>
